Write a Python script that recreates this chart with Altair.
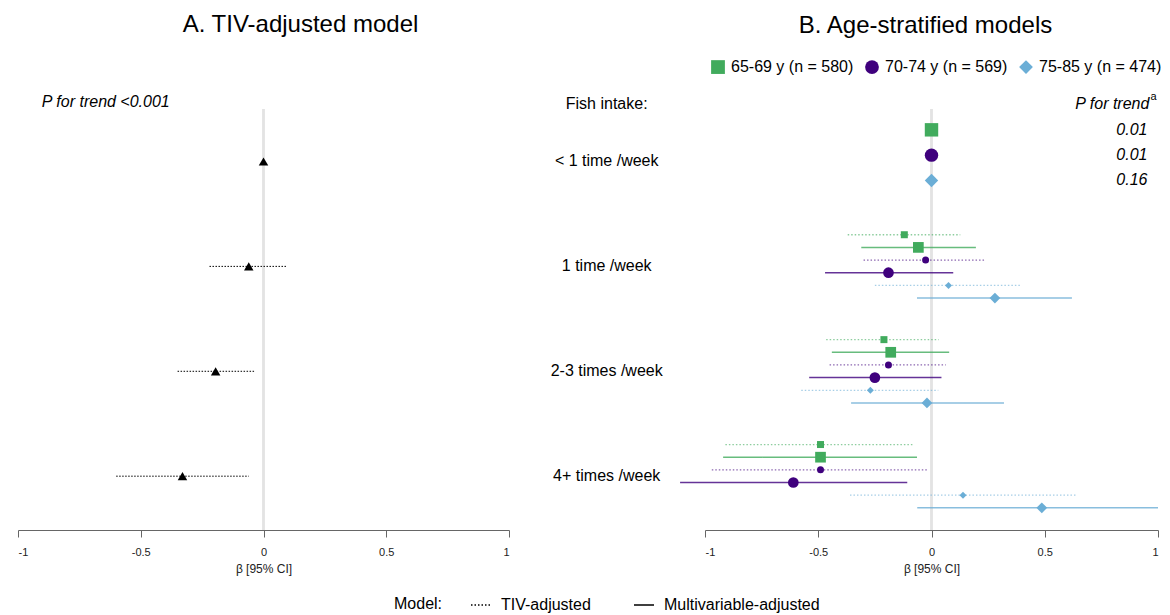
import altair as alt
import pandas as pd

# ---------------- data ----------------
categories = ["< 1 time /week", "1 time /week", "2-3 times /week", "4+ times /week"]

# Panel A: TIV-adjusted model (first category = reference)
a_beta = [0.0, -0.06, -0.195, -0.33]
a_lo = [None, -0.22, -0.35, -0.60]
a_hi = [None, 0.094, -0.037, -0.06]
a_ptrend = "P for trend <0.001"

# Panel B: age-stratified models (values for categories 2..4; category 1 is reference)
ages = ["65-69 y (n = 580)", "70-74 y (n = 569)", "75-85 y (n = 474)"]
age_colors = ["#41ab5d", "#3f007d", "#6baed6"]
age_shapes = ["square", "circle", "diamond"]
models = ["TIV-adjusted", "Multivariable-adjusted"]
p_trend_b = ["0.01", "0.01", "0.16"]

tiv_beta = [[-0.12, -0.21, -0.49], [-0.026, -0.19, -0.49], [0.075, -0.27, 0.139]]
tiv_lo = [[-0.37, -0.465, -0.91], [-0.30, -0.45, -0.97], [-0.25, -0.575, -0.36]]
tiv_hi = [[0.127, 0.032, -0.083], [0.24, 0.063, -0.019], [0.39, 0.03, 0.64]]

mv_beta = [[-0.058, -0.18, -0.49], [-0.19, -0.25, -0.61], [0.28, -0.02, 0.487]]
mv_lo = [[-0.31, -0.44, -0.92], [-0.47, -0.54, -1.11], [-0.064, -0.355, -0.063]]
mv_hi = [[0.196, 0.078, -0.064], [0.096, 0.044, -0.107], [0.62, 0.32, 1.0]]

# ---------------- tables ----------------
ROW = 0.1207  # row spacing within a category (in category units)
Y_TOP, Y_BOT = -0.691, 3.513

a_df = pd.DataFrame({"cat": categories, "ci": range(4), "beta": a_beta, "lo": a_lo, "hi": a_hi})
a_ci = a_df.dropna()

rows = []
for ai, age in enumerate(ages):
    for mi, model in enumerate(models):
        r = ai * 2 + mi
        for ci in range(4):
            if ci == 0:
                if mi == 0:
                    rows.append(dict(age=age, model=model, kind="Reference", ci=ci, r=r,
                                     beta=0.0, lo=None, hi=None))
                continue
            src = (tiv_beta, tiv_lo, tiv_hi) if mi == 0 else (mv_beta, mv_lo, mv_hi)
            rows.append(dict(age=age, model=model, kind=model, ci=ci, r=r,
                             beta=src[0][ai][ci - 1], lo=src[1][ai][ci - 1], hi=src[2][ai][ci - 1]))
b_df = pd.DataFrame(rows)
b_df["ypos"] = b_df["ci"] + (b_df["r"] - 2.5) * ROW
b_ci = b_df.dropna(subset=["lo"])
b_ref = b_df[b_df["kind"] == "Reference"].copy()
b_ref["p"] = p_trend_b

cat_df = pd.DataFrame({"cat": categories, "ci": range(4)})

FONT = "Liberation Sans"

def xaxis():
    return alt.Axis(values=[-1, -0.5, 0, 0.5, 1], labelExpr="'' + datum.value", grid=False,
                    title="β [95% CI]", domainColor="#666", tickColor="#666", tickSize=7,
                    labelFontSize=11, labelColor="#222", labelPadding=9, titleFontSize=12,
                    titleFontWeight="normal", titleColor="#222", titlePadding=6)

yscale = alt.Scale(domain=[Y_TOP, Y_BOT], reverse=True, nice=False, zero=False)
xscale = alt.Scale(domain=[-1, 1], nice=False, zero=False)

# ---------------- panel A ----------------
zeroA = alt.Chart(cat_df).mark_rule(color="#e3e3e3", strokeWidth=2).encode(
    x=alt.datum(0, scale=xscale, axis=xaxis()),
    y=alt.datum(-0.5, scale=yscale, axis=None), y2=alt.datum(Y_BOT))
ciA = alt.Chart(a_ci).mark_rule(color="black", strokeWidth=1, strokeDash=[1.5, 1.5]).encode(
    x="lo:Q", x2="hi:Q", y="ci:Q")
ptA = alt.Chart(a_df).mark_point(shape="triangle-up", filled=True, color="black", size=90, opacity=1).encode(
    x="beta:Q", y="ci:Q")
txtA = alt.Chart(pd.DataFrame({"t": [a_ptrend]})).mark_text(
    align="left", baseline="middle", fontStyle="italic", fontSize=16, font=FONT).encode(
    x=alt.datum(-0.903), y=alt.datum(-0.567), text="t:N")

left = alt.layer(zeroA, ciA, ptA, txtA).properties(
    width=491, height=441,
    title=alt.TitleParams("A. TIV-adjusted model", fontSize=24, fontWeight="normal", font=FONT,
                          anchor="middle", frame="group", dx=37, offset=52))

# ---------------- panel B ----------------
zeroB = alt.Chart(cat_df).mark_rule(color="#e3e3e3", strokeWidth=2).encode(
    x=alt.datum(0, scale=xscale, axis=xaxis()),
    y=alt.datum(-0.5, scale=yscale, axis=None), y2=alt.datum(Y_BOT))

model_legend = alt.Legend(orient="none", legendX=-311, legendY=505,
                          direction="horizontal", title="Model:",
                          titleOrient="left", titleFontSize=16,
                          titleFontWeight="normal", titleColor="black",
                          labelFontSize=16, labelColor="black",
                          symbolType="stroke", symbolStrokeColor="black", symbolOpacity=1,
                          symbolSize=400, symbolStrokeWidth=1.4,
                          columnPadding=40, titlePadding=27, labelOffset=9, padding=0)
dash_enc = alt.StrokeDash("model:N", scale=alt.Scale(domain=models, range=[[1.5, 2], [1, 0]]),
                          legend=model_legend)
stroke_enc = alt.Stroke("age:N", scale=alt.Scale(range=age_colors), legend=None)

ciB_tiv = alt.Chart(b_ci).transform_filter(alt.datum.model == models[0]).mark_rule(
    strokeWidth=1.3, opacity=0.6).encode(
    x="lo:Q", x2="hi:Q", y="ypos:Q", stroke=stroke_enc, strokeDash=dash_enc)
ciB_mv = alt.Chart(b_ci).transform_filter(alt.datum.model == models[1]).mark_rule(
    strokeWidth=1.5, opacity=0.8).encode(
    x="lo:Q", x2="hi:Q", y="ypos:Q", stroke=stroke_enc, strokeDash=dash_enc)

age_legend = alt.Legend(orient="none", legendX=5, legendY=-30, direction="horizontal", title=None,
                        labelFontSize=16, labelColor="black", symbolSize=190, symbolOpacity=1,
                        columnPadding=8, labelOffset=5, padding=0)
ptB = alt.Chart(b_df).mark_point(filled=True, opacity=1).encode(
    x="beta:Q", y="ypos:Q",
    color=alt.Color("age:N", scale=alt.Scale(domain=ages, range=age_colors), legend=age_legend),
    shape=alt.Shape("age:N", scale=alt.Scale(domain=ages, range=age_shapes), legend=age_legend),
    size=alt.Size("kind:N", scale=alt.Scale(domain=["TIV-adjusted", "Multivariable-adjusted", "Reference"],
                                             range=[49, 180, 180]), legend=None))

catTxt = alt.Chart(cat_df).mark_text(align="center", baseline="middle", fontSize=16, font=FONT).encode(
    x=alt.datum(-1.434), y="ci:Q", text="cat:N")
fishTxt = alt.Chart(pd.DataFrame({"t": ["Fish intake:"]})).mark_text(
    align="center", baseline="middle", fontSize=16, font=FONT).encode(
    x=alt.datum(-1.434), y=alt.datum(-0.551), text="t:N")
ptrTxt = alt.Chart(pd.DataFrame({"t": ["P for trend"]})).mark_text(
    align="right", baseline="middle", fontSize=16, fontStyle="italic", font=FONT).encode(
    x=alt.datum(0.962), y=alt.datum(-0.548), text="t:N")
supTxt = alt.Chart(pd.DataFrame({"t": ["a"]})).mark_text(
    align="left", baseline="middle", fontSize=11, font=FONT, dy=-7, dx=1).encode(
    x=alt.datum(0.962), y=alt.datum(-0.548), text="t:N")
pvTxt = alt.Chart(b_ref).mark_text(
    align="left", baseline="middle", fontSize=16, fontStyle="italic", font=FONT).encode(
    x=alt.datum(0.816), y="ypos:Q", text="p:N")

right = alt.layer(zeroB, ciB_tiv, ciB_mv, ptB, catTxt, fishTxt, ptrTxt, supTxt, pvTxt).properties(
    width=453, height=441,
    title=alt.TitleParams("B. Age-stratified models", fontSize=24, fontWeight="normal", font=FONT,
                          anchor="middle", frame="group", dx=-6, offset=21))

chart = alt.hconcat(left, right, spacing=196, bounds="flush").resolve_scale(
    color="independent", shape="independent", size="independent",
    strokeDash="independent", stroke="independent"
).resolve_legend(
    color="independent", shape="independent", size="independent",
    strokeDash="independent", stroke="independent"
).properties(
    padding={"left": 9, "top": 5, "right": 0, "bottom": 0}
).configure(
    font=FONT,
    view=alt.ViewConfig(stroke=None),
    axis=alt.AxisConfig(labelFont=FONT, titleFont=FONT),
    legend=alt.LegendConfig(labelFont=FONT, titleFont=FONT),
)

chart.save("out.html", embed_options={"renderer": "svg", "actions": False})
